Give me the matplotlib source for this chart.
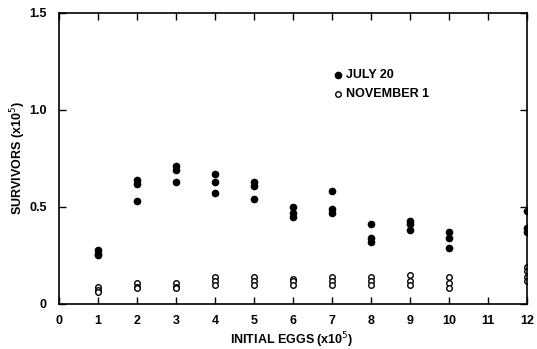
import numpy as np
import matplotlib.pyplot as plt

plt.rcParams['font.family'] = ['Liberation Sans', 'DejaVu Sans']

# July 20 survivors (x10^5) at each initial egg density (x10^5)
july_x = [1, 1, 1, 2, 2, 2, 3, 3, 3, 4, 4, 4, 5, 5, 5, 6, 6, 6,
          7, 7, 7, 8, 8, 8, 9, 9, 9, 10, 10, 10, 12, 12, 12]
july_y = [0.28, 0.26, 0.25, 0.64, 0.62, 0.53, 0.71, 0.69, 0.63,
          0.67, 0.63, 0.57, 0.63, 0.61, 0.54, 0.50, 0.47, 0.45,
          0.58, 0.49, 0.47, 0.41, 0.34, 0.32, 0.43, 0.41, 0.38,
          0.37, 0.34, 0.29, 0.48, 0.39, 0.37]

# November 1 survivors
nov_x = [1, 1, 1, 2, 2, 2, 3, 3, 3, 4, 4, 4, 5, 5, 5, 6, 6, 6,
         7, 7, 7, 8, 8, 8, 9, 9, 9, 10, 10, 10, 12, 12, 12, 12]
nov_y = [0.09, 0.07, 0.06, 0.11, 0.09, 0.08, 0.11, 0.09, 0.08,
         0.14, 0.12, 0.10, 0.14, 0.12, 0.10, 0.13, 0.12, 0.10,
         0.14, 0.12, 0.10, 0.14, 0.12, 0.10, 0.15, 0.12, 0.10,
         0.14, 0.11, 0.08, 0.19, 0.17, 0.14, 0.12]

xticks = list(range(13))
xticklabels = ['0', '1', '2', '3', '4', '5', '6', '7', '8', '9', '10', '11', '12']
yticks = [0, 0.5, 1.0, 1.5]
yticklabels = ['0', '0.5', '1.0', '1.5']

fig = plt.figure(figsize=(5.37, 3.49), dpi=100)
ax = fig.add_axes([0.110, 0.129, 0.871, 0.834])

ax.plot(july_x, july_y, 'o', color='black', markersize=4.5, linestyle='none')
ax.plot(nov_x, nov_y, 'o', markerfacecolor='white', markeredgecolor='black',
        markeredgewidth=1.0, markersize=4, linestyle='none')

ax.set_xlim(0, 12)
ax.set_ylim(0, 1.5)
ax.set_xticks(xticks)
ax.set_xticklabels(xticklabels, fontsize=9, fontweight='bold')
ax.set_yticks(yticks)
ax.set_yticklabels(yticklabels, fontsize=9, fontweight='bold')
ax.tick_params(direction='in', length=5, width=1, top=True, right=True)
ax.tick_params(axis='x', pad=8)
ax.tick_params(axis='y', pad=9)
for s in ax.spines.values():
    s.set_linewidth(1.2)

ax.set_xlabel('INITIAL EGGS (x10$^5$)', fontsize=9, fontweight='bold')
ax.xaxis.set_label_coords(0.498, -0.092)
ax.set_ylabel('SURVIVORS (x10$^5$)', fontsize=9, fontweight='bold')
ax.yaxis.set_label_coords(-0.066, 0.5)

# legend drawn as markers + text
ax.plot([7.15], [1.18], 'o', color='black', markersize=4.5)
ax.plot([7.15], [1.08], 'o', markerfacecolor='white', markeredgecolor='black', markersize=4)
ax.text(7.35, 1.18, 'JULY 20', fontsize=9, fontweight='bold', va='center')
ax.text(7.35, 1.08, 'NOVEMBER 1', fontsize=9, fontweight='bold', va='center')

fig.savefig('out.png', dpi=100)
